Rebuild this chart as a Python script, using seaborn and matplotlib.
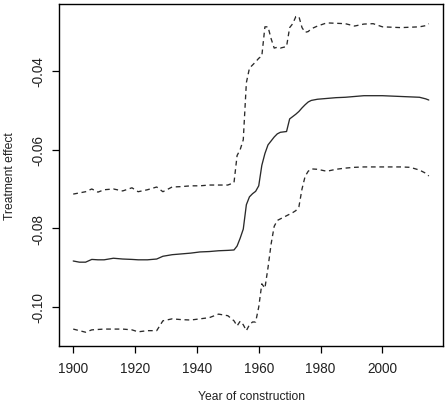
import numpy as np
import pandas as pd
import matplotlib
matplotlib.use("Agg")
import matplotlib.pyplot as plt
import seaborn as sns

sns.set_style("ticks")
plt.rcParams['font.family'] = ['Liberation Sans', 'DejaVu Sans']
plt.rcParams['axes.unicode_minus'] = False

# values
years = [1900, 1902, 1904, 1906, 1908, 1910, 1913, 1916, 1919, 1921,
         1924, 1927, 1929, 1932, 1935, 1938, 1941, 1944, 1947, 1950,
         1952, 1953, 1954, 1955, 1956, 1957, 1958, 1959, 1960, 1961,
         1962, 1963, 1964, 1965, 1966, 1967, 1968, 1969, 1970, 1971,
         1972, 1973, 1974, 1975, 1976, 1977, 1979, 1982, 1985, 1988,
         1991, 1994, 1997, 2000, 2003, 2006, 2009, 2012, 2014, 2015]

effect = [-0.0883, -0.0886, -0.0886, -0.0879, -0.0880, -0.0880, -0.0876, -0.0878, -0.0879, -0.0880,
          -0.0880, -0.0878, -0.0871, -0.0867, -0.0865, -0.0863, -0.0860, -0.0859, -0.0857, -0.0856,
          -0.0855, -0.0845, -0.0825, -0.0802, -0.0740, -0.0720, -0.0712, -0.0706, -0.0692, -0.0640,
          -0.0610, -0.0588, -0.0578, -0.0568, -0.0560, -0.0556, -0.0555, -0.0554, -0.0522, -0.0516,
          -0.0510, -0.0503, -0.0494, -0.0486, -0.0479, -0.0475, -0.0472, -0.0470, -0.0468, -0.0467,
          -0.0465, -0.0463, -0.0463, -0.0463, -0.0464, -0.0465, -0.0466, -0.0467, -0.0471, -0.0474]

upper = [-0.0713, -0.0710, -0.0707, -0.0700, -0.0708, -0.0702, -0.0700, -0.0705, -0.0697, -0.0707,
         -0.0702, -0.0695, -0.0707, -0.0695, -0.0694, -0.0692, -0.0692, -0.0690, -0.0690, -0.0690,
         -0.0684, -0.0615, -0.0600, -0.0575, -0.0430, -0.0393, -0.0385, -0.0377, -0.0368, -0.0362,
         -0.0288, -0.0288, -0.0318, -0.0342, -0.0340, -0.0342, -0.0340, -0.0338, -0.0290, -0.0280,
         -0.0262, -0.0262, -0.0290, -0.0302, -0.0300, -0.0293, -0.0286, -0.0278, -0.0279, -0.0280,
         -0.0286, -0.0281, -0.0280, -0.0288, -0.0289, -0.0290, -0.0289, -0.0288, -0.0285, -0.0280]

lower = [-0.1056, -0.1060, -0.1064, -0.1058, -0.1057, -0.1056, -0.1056, -0.1056, -0.1058, -0.1063,
         -0.1060, -0.1060, -0.1035, -0.1030, -0.1032, -0.1033, -0.1030, -0.1027, -0.1018, -0.1022,
         -0.1035, -0.1048, -0.1036, -0.1045, -0.1060, -0.1045, -0.1038, -0.1038, -0.1000, -0.0941,
         -0.0952, -0.0900, -0.0840, -0.0795, -0.0780, -0.0776, -0.0772, -0.0768, -0.0764, -0.0760,
         -0.0755, -0.0745, -0.0700, -0.0668, -0.0655, -0.0649, -0.0650, -0.0655, -0.0650, -0.0647,
         -0.0645, -0.0644, -0.0644, -0.0644, -0.0644, -0.0644, -0.0645, -0.0652, -0.0660, -0.0667]

x_ticks = [1900, 1920, 1940, 1960, 1980, 2000]
y_ticks = [-0.10, -0.08, -0.06, -0.04]

df = pd.DataFrame({'year': years, 'effect': effect, 'upper': upper, 'lower': lower})

fig = plt.figure(figsize=(4.45, 4.06), dpi=100)
ax = fig.add_axes([59 / 445, 59 / 406, 384 / 445, 342 / 406])

sns.lineplot(data=df, x='year', y='effect', ax=ax, color='#2a2a2a', lw=0.95, estimator=None)
for col in ['upper', 'lower']:
    sns.lineplot(data=df, x='year', y=col, ax=ax, color='#2a2a2a', lw=0.95,
                 estimator=None, linestyle=(0, (3.6, 2.8)))

ax.set_xlim(1895.4, 2019.6)
ax.set_ylim(-0.1099, -0.0230)
ax.set_xticks(x_ticks)
ax.set_yticks(y_ticks)
ax.set_yticklabels([f"{v:.2f}" for v in y_ticks])
ax.tick_params(axis='both', direction='out', length=5, width=0.9, color='black',
               labelsize=9.8, labelcolor='#222222')
ax.tick_params(axis='x', pad=6)
ax.tick_params(axis='y', pad=5, labelrotation=90)
for lab in ax.get_yticklabels():
    lab.set_va('center')

for side in ['top', 'right', 'bottom', 'left']:
    ax.spines[side].set_visible(True)
    ax.spines[side].set_color('black')
    ax.spines[side].set_linewidth(1.0)

ax.set_xlabel('Year of construction', fontsize=8.7, color='#222222')
ax.set_ylabel('Treatment effect', fontsize=8.7, color='#222222')
ax.xaxis.set_label_coords(0.5, -0.128)
ax.yaxis.set_label_coords(-0.112, 0.5)

fig.savefig('out.png', dpi=100)
